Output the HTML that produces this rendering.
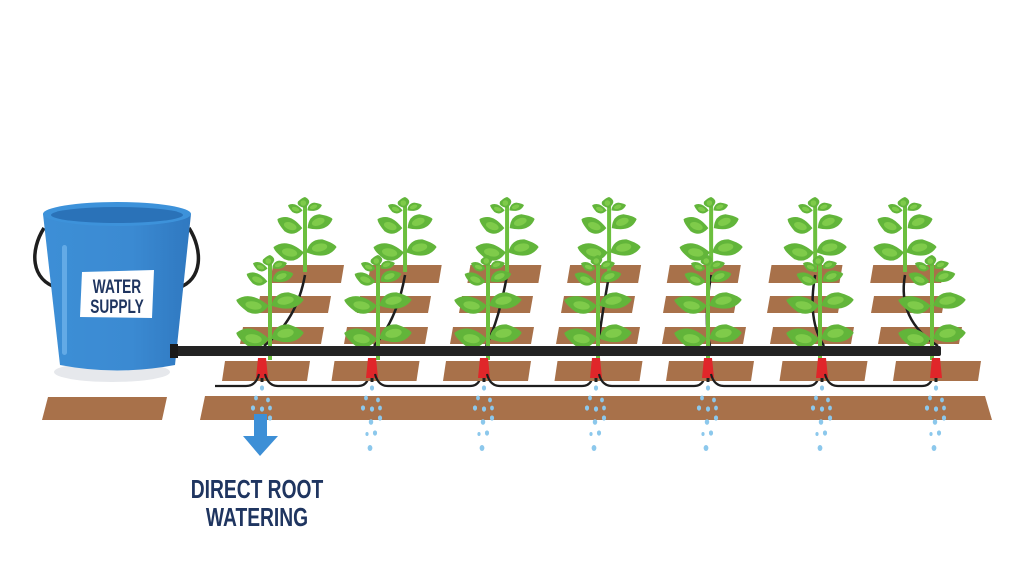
<!DOCTYPE html>
<html><head><meta charset="utf-8"><style>
html,body{margin:0;padding:0;background:#fff;}
svg{display:block}
</style></head><body>
<svg id="s" width="1024" height="585" viewBox="0 0 1024 585" xmlns="http://www.w3.org/2000/svg">
<defs>
<linearGradient id="bk" x1="0" x2="1"><stop offset="0" stop-color="#3d8fd6"/><stop offset="0.6" stop-color="#3b8ad2"/><stop offset="1" stop-color="#2f78c0"/></linearGradient>
</defs>
<rect width="1024" height="585" fill="#fff"/>
<polygon points="48,397 167,397 162,420 42,420" fill="#a8714a"/>
<polygon points="205,396 985,396 992,420 200,420" fill="#a8714a"/>
<g id="cols"></g>
<ellipse cx="112" cy="372" rx="58" ry="10" fill="#e6e8ec"/>
<path d="M44,228 C30,250 30,280 58,288" stroke="#1e1e1e" stroke-width="3.5" fill="none"/>
<path d="M189,228 C203,250 203,280 178,288" stroke="#1e1e1e" stroke-width="3.5" fill="none"/>
<path d="M43,214 L191,214 L175,365 Q117,376 60,365 Z" fill="url(#bk)"/>
<ellipse cx="117" cy="214" rx="74" ry="12" fill="#3d92da"/>
<ellipse cx="117" cy="215" rx="66" ry="8" fill="#2a72b8"/>
<rect x="62" y="245" width="5" height="110" rx="2.5" fill="#6db2ea" opacity="0.8"/>
<polygon points="82,272 154,270 152,318 80,317" fill="#fff"/>
<text x="117" y="293" text-anchor="middle" font-family="Liberation Sans, sans-serif" font-weight="bold" font-size="19" fill="#1f3560" transform="translate(117 0) scale(0.72 1) translate(-117 0)">WATER</text>
<text x="117" y="313" text-anchor="middle" font-family="Liberation Sans, sans-serif" font-weight="bold" font-size="19" fill="#1f3560" transform="translate(117 0) scale(0.72 1) translate(-117 0)">SUPPLY</text>
<rect x="172" y="346" width="769" height="10" rx="2" fill="#232323"/>
<rect x="170" y="344" width="8" height="14" fill="#1a1a1a"/>
<rect x="254" y="414" width="13" height="24" fill="#3d8fd6"/>
<polygon points="243,436 278,436 260,456" fill="#3d8fd6"/>
<text x="257" y="498" text-anchor="middle" font-family="Liberation Sans, sans-serif" font-weight="bold" font-size="26" fill="#1f3560" transform="translate(257 0) scale(0.74 1) translate(-257 0)">DIRECT ROOT</text>
<text x="257" y="526" text-anchor="middle" font-family="Liberation Sans, sans-serif" font-weight="bold" font-size="26" fill="#1f3560" transform="translate(257 0) scale(0.74 1) translate(-257 0)">WATERING</text>
</svg>
<script>
var NS="http://www.w3.org/2000/svg",g=document.getElementById("cols");
function el(t,a){var e=document.createElementNS(NS,t);for(var k in a)e.setAttribute(k,a[k]);g.appendChild(e);return e;}
function strip(x1,x2,y1,y2){el("polygon",{points:(x1+3)+","+y1+" "+x2+","+y1+" "+(x2-3)+","+y2+" "+x1+","+y2,fill:"#a8714a"});}
function leaf(x,y,rx,ry,rot){
 var t="rotate("+rot+" "+x+" "+y+")";
 el("path",{d:"M"+(x-rx)+","+y+" Q"+(x-rx*0.6)+","+(y-ry*1.3)+" "+(x+rx*0.3)+","+(y-ry)+" Q"+(x+rx*1.1)+","+(y-ry*0.4)+" "+(x+rx*1.2)+","+y+" Q"+(x+rx*0.4)+","+(y+ry*1.2)+" "+(x-rx)+","+y+"Z",fill:"#62b53a",transform:t});
 el("ellipse",{cx:x,cy:y-ry*0.25,rx:rx*0.55,ry:ry*0.4,fill:"#7fcb4a",transform:t});}
function plant(x,top,bot,big){
 el("line",{x1:x,y1:top,x2:x,y2:bot,stroke:"#6cbf3e","stroke-width":4});
 leaf(x,top+3,5,7,-90);leaf(x-9,top+8,7,5,200);leaf(x+9,top+8,7,5,-20);
 if(big){
  leaf(x-12,top+20,10,7,200);leaf(x+12,top+20,10,7,-20);
  leaf(x-16,top+45,15,10,190);leaf(x+16,top+45,15,10,-10);
  leaf(x-16,top+78,15,11,190);leaf(x+16,top+78,15,11,-10);
 }else{
  leaf(x-14,top+24,12,9,200);leaf(x+14,top+24,12,9,-20);
  leaf(x-15,top+50,14,10,190);leaf(x+15,top+50,14,10,-10);
 }
}
var es=[262,372,484,596,708,822,936];
for(var i=0;i<7;i++){
 var e=es[i],o1=8-12.3*i,o2=-5-10*i,o3=-22-6*i,o4=-40-0.5*i;
 strip(e+o1,e+o1+74,265,283);
 strip(e+o2,e+o2+74,296,313);
 strip(e+o3,e+o3+84,327,344);
 strip(e+o4,e+o4+88,361,381);
 var ux=e+43-23*i/6*2.6, lx=e+8-12*i/6;
 if(i==6){ux=905;lx=932;}
 el("path",{d:"M"+(ux)+",275 Q"+(ux-8)+",320 "+(e+2)+",346",stroke:"#1e1e1e","stroke-width":2.5,fill:"none"});
 plant(ux,200,272,false);
 plant(lx,258,360,true);
 el("polygon",{points:(e-4)+",358 "+(e+4)+",358 "+(e+6)+",378 "+(e-6)+",378",fill:"#e0262a"});
 el("rect",{x:e-1.5,y:378,width:3,height:4,fill:"#222"});
 if(i<6){el("path",{d:"M"+(e+3)+",374 Q"+(e+6)+",386 "+(e+16)+",386 L"+(es[i+1]-14)+",386 Q"+(es[i+1]-4)+",386 "+(es[i+1]-3)+",374",stroke:"#1e1e1e","stroke-width":2.2,fill:"none"});}
 if(i==0){el("path",{d:"M"+(e-3)+",374 Q"+(e-6)+",386 "+(e-16)+",386 L215,386",stroke:"#1e1e1e","stroke-width":2.2,fill:"none"});}
 var d=[[0,388,2.6],[-6,398,2.4],[6,400,2.4],[-9,408,2.6],[0,409,2.6],[8,408,2.4],[-1,422,2.8],[8,418,2.6],[-5,434,2],[3,433,2.6],[-2,448,3]];
 d.forEach(function(p){el("ellipse",{cx:e+p[0],cy:p[1],rx:p[2]*0.8,ry:p[2],fill:"#8cc8ec"});});
}
</script>
</body></html>
